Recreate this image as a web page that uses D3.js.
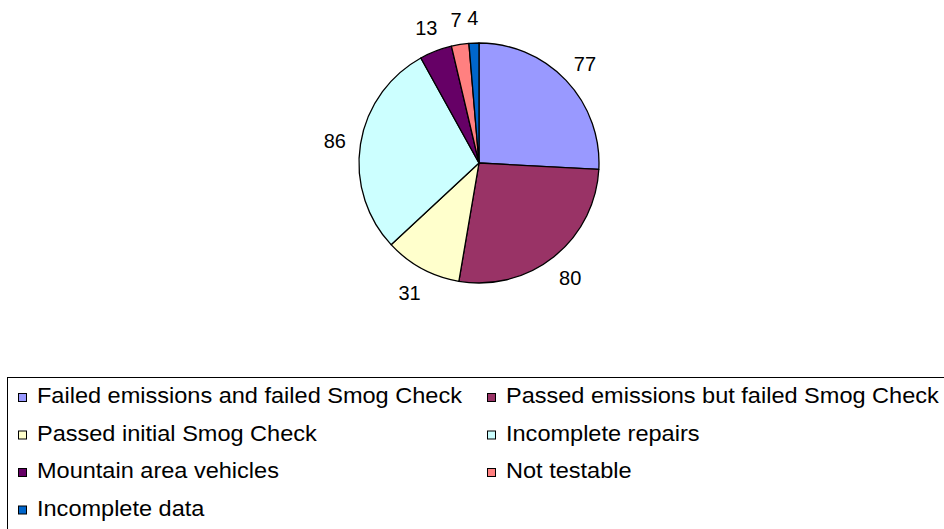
<!DOCTYPE html>
<html>
<head>
<meta charset="utf-8">
<script src="https://cdn.jsdelivr.net/npm/d3@7"></script>
<style>
  body { margin: 0; background: #fff; }
  svg { display: block; font-family: "Liberation Sans", Arial, sans-serif; }
</style>
</head>
<body>
<script>
var categories = [
    "Failed emissions and failed Smog Check",
    "Passed emissions but failed Smog Check",
    "Passed initial Smog Check",
    "Incomplete repairs",
    "Mountain area vehicles",
    "Not testable",
    "Incomplete data"
];
var values = [77, 80, 31, 86, 13, 7, 4];
var colors = ["#9999ff", "#993366", "#ffffcc", "#ccffff", "#660066", "#ff8080", "#0066cc"];

var width = 944;
var height = 529;

var svg = d3.select("body")
    .append("svg")
    .attr("width", width)
    .attr("height", height);

var cx = 479, cy = 163, r = 120;

var pie = d3.pie().sort(null).value(function(d) { return d; });
var arcs = pie(values);

var arc = d3.arc().innerRadius(0).outerRadius(r);

var g = svg.append("g").attr("transform", "translate(" + cx + "," + cy + ")");

g.selectAll("path")
    .data(arcs)
    .enter()
    .append("path")
    .attr("d", arc)
    .attr("fill", function(d, i) { return colors[i]; })
    .attr("stroke", "#000")
    .attr("stroke-width", 1.3)
    .attr("stroke-linejoin", "round");

// value labels outside the slices
var labelArc = d3.arc().innerRadius(146).outerRadius(146);
g.selectAll(".lbl")
    .data(arcs)
    .enter()
    .append("text")
    .attr("class", "lbl")
    .attr("transform", function(d) {
        var p = labelArc.centroid(d);
        return "translate(" + p[0] + "," + (p[1] + 1) + ")";
    })
    .attr("text-anchor", "middle")
    .attr("dy", "0.36em")
    .style("font-size", "20px")
    .attr("fill", "#000")
    .text(function(d) { return d.data; });

// legend
var legend = svg.append("g");
legend.append("rect")
    .attr("x", 7.5)
    .attr("y", 377.5)
    .attr("width", 960)
    .attr("height", 200)
    .attr("fill", "#fff")
    .attr("stroke", "#000")
    .attr("stroke-width", 1);

var colX = [18, 487];
var item = legend.selectAll(".item")
    .data(categories)
    .enter()
    .append("g")
    .attr("class", "item")
    .attr("transform", function(d, i) {
        return "translate(" + colX[i % 2] + "," + (403 + Math.floor(i / 2) * 37.5) + ")";
    });

item.append("rect")
    .attr("x", 0.5)
    .attr("y", -9.5)
    .attr("width", 8)
    .attr("height", 8)
    .attr("fill", function(d, i) { return colors[i]; })
    .attr("stroke", "#000")
    .attr("stroke-width", 1);

// the legend text is a bit wider than plain Arial
item.append("text")
    .attr("transform", "translate(19,0) scale(1.07,1)")
    .style("font-size", "22px")
    .attr("fill", "#000")
    .text(function(d) { return d; });
</script>
</body>
</html>
